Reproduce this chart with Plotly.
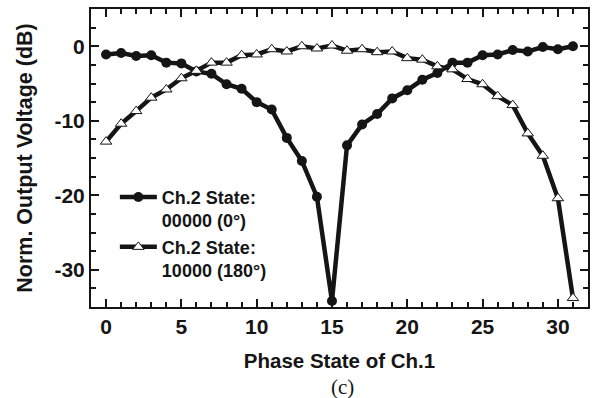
import plotly.graph_objects as go

phase_state = list(range(32))
ch2_0deg = [-1.1, -0.9, -1.3, -1.2, -2.2, -2.3, -3.4, -3.7, -5.1, -5.7, -7.5, -8.5,
            -12.3, -15.4, -20.2, -34.2, -13.3, -10.5, -9.1, -7.0, -5.9, -4.5, -3.6, -2.2,
            -2.2, -1.2, -1.1, -0.5, -0.7, -0.1, -0.4, 0.0]
ch2_180deg = [-12.8, -10.4, -8.7, -6.9, -5.8, -4.3, -3.3, -2.2, -2.2, -1.2, -1.1, -0.4,
              -0.7, 0.0, -0.3, 0.1, -0.6, -0.4, -0.8, -0.7, -1.6, -1.8, -2.7, -3.1,
              -4.4, -5.1, -6.7, -7.9, -11.7, -14.7, -20.4, -33.8]
names = ["Ch.2 State:<br>00000 (0°)", "Ch.2 State:<br>10000 (180°)"]
x_ticks = [0, 5, 10, 15, 20, 25, 30]
y_ticks = [0, -10, -20, -30]

FONT = "Liberation Sans, Arial, sans-serif"
INK = "#151515"

fig = go.Figure()
fig.add_trace(go.Scatter(
    x=phase_state, y=ch2_0deg, name=names[0], mode="lines+markers",
    line=dict(color=INK, width=4.5),
    marker=dict(symbol="circle", size=10, color=INK),
))
fig.add_trace(go.Scatter(
    x=phase_state, y=ch2_180deg, name=names[1], mode="lines+markers",
    line=dict(color=INK, width=4.5),
    marker=dict(symbol="triangle-up", size=10, color="white",
                line=dict(color=INK, width=1)),
))

axis_common = dict(
    showline=True, linecolor=INK, linewidth=2, mirror="ticks",
    ticks="inside", ticklen=8, tickwidth=2, tickcolor=INK,
    showgrid=False, zeroline=False,
    tickfont=dict(family=FONT, size=21, color=INK, weight="bold"),
)

fig.update_xaxes(
    range=[-1, 32], tickvals=x_ticks, ticktext=[str(v) for v in x_ticks],
    minor=dict(dtick=1, tick0=0, ticks="inside", ticklen=5, tickwidth=1.5,
               tickcolor=INK),
    title=dict(text="Phase State of Ch.1", standoff=16,
               font=dict(family=FONT, size=20.5, color=INK, weight="bold")),
    **axis_common,
)
fig.update_yaxes(
    range=[-35, 5], tickvals=y_ticks, ticktext=[str(v) for v in y_ticks],
    minor=dict(dtick=2.5, tick0=0, ticks="inside", ticklen=5, tickwidth=1.5,
               tickcolor=INK),
    title=dict(text="Norm. Output Voltage (dB)", standoff=16,
               font=dict(family=FONT, size=21.5, color=INK, weight="bold")),
    **axis_common,
)

fig.add_annotation(
    text="(c)", xref="paper", yref="paper", x=0.506, y=-0.27, yanchor="middle",
    showarrow=False,
    font=dict(family="Liberation Serif, Times New Roman, serif", size=21, color=INK),
)

fig.update_layout(
    width=597, height=398,
    margin=dict(l=91, r=8, t=7, b=91),
    paper_bgcolor="white", plot_bgcolor="white",
    showlegend=True,
    legend=dict(
        x=0.048, y=0.43, xanchor="left", yanchor="top",
        bgcolor="rgba(0,0,0,0)", valign="top", itemwidth=37,
        font=dict(family=FONT, size=18, color=INK, weight="bold"),
    ),
)

fig.write_html("out.html")
